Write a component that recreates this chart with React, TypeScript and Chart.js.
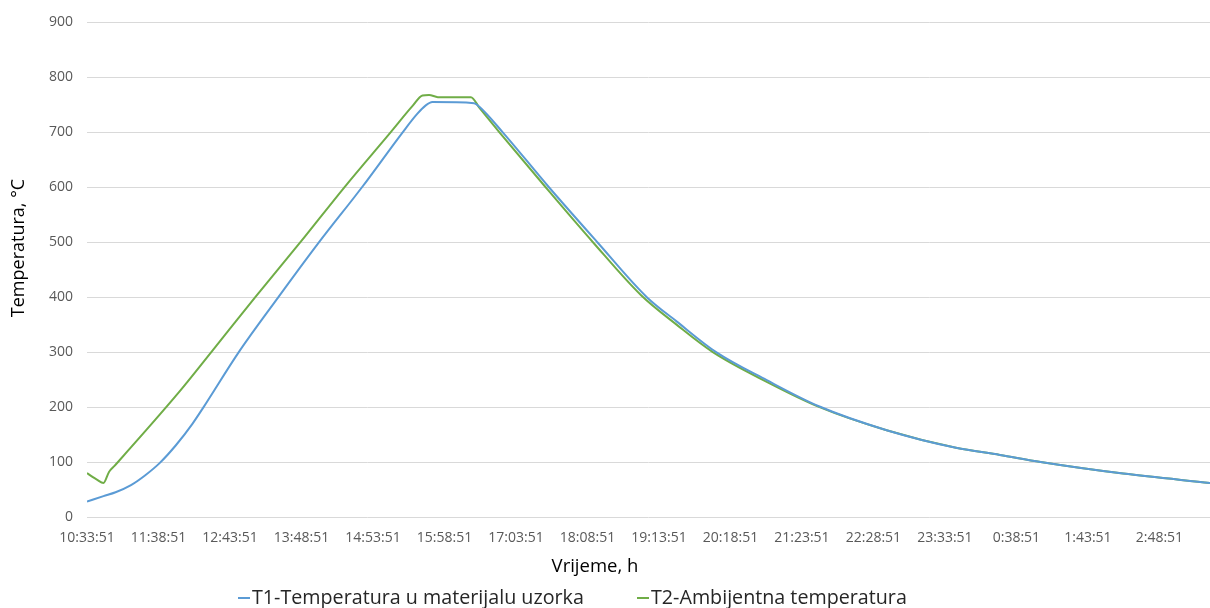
import React, { useEffect, useRef } from "react";
import { Chart, registerables } from "chart.js";

Chart.register(...registerables);

// ---- data (minutes elapsed since 10:33:51, temperature in °C) ----
const startTimeSeconds = 10 * 3600 + 33 * 60 + 51;
const tickStepMinutes = 65;
const xMaxMinutes = 1021;
const yMin = 0;
const yMax = 900;
const yStep = 100;

const t1Minutes = [0, 15, 26, 40, 53, 66, 81, 96, 106, 138, 174, 211, 250, 287, 300, 308, 314, 352, 357, 378, 420, 464, 509, 536, 572, 618, 666, 727, 790, 830, 867, 942, 1021];
const t1Values = [28, 38, 45, 58, 76, 98, 131, 170, 200, 300, 400, 500, 600, 700, 733, 749, 755, 753, 746, 700, 600, 500, 400, 356, 300, 249, 201, 158, 126, 113, 100, 79, 62];

const t2Minutes = [0, 5, 9, 15, 20, 25, 84, 113, 153, 194, 234, 276, 296, 305, 311, 319, 349, 357, 375, 417, 460, 504, 536, 569, 618, 666, 727, 790, 830, 867, 942, 1021];
const t2Values = [80, 73, 68, 62, 82, 93, 228, 300, 400, 500, 600, 700, 748, 767, 768, 764, 764, 744, 700, 600, 500, 403, 350, 300, 246, 200, 158, 126, 113, 100, 79, 62];

const seriesLabels = ["T1-Temperatura u materijalu uzorka", "T2-Ambijentna temperatura"];
const seriesColors = ["#5B9BD5", "#70AD47"];
const xTitle = "Vrijeme, h";
const yTitle = "Temperatura, °C";

const FONT = '"Open Sans", "Liberation Sans", sans-serif';

function formatTime(minutes: number): string {
  let s = (startTimeSeconds + Math.round(minutes * 60)) % 86400;
  const h = Math.floor(s / 3600);
  s -= h * 3600;
  const m = Math.floor(s / 60);
  const sec = s - m * 60;
  return `${h}:${String(m).padStart(2, "0")}:${String(sec).padStart(2, "0")}`;
}

const overlayPlugin = {
  id: "overlayTitlesLegend",
  afterDraw(chart: any) {
    const ctx = chart.ctx as CanvasRenderingContext2D;
    ctx.save();
    // axis titles
    ctx.fillStyle = "#000000";
    ctx.textAlign = "center";
    ctx.textBaseline = "middle";
    ctx.font = `18.5px ${FONT}`;
    ctx.fillText(xTitle, 595, 567);
    ctx.font = `18px ${FONT}`;
    ctx.save();
    ctx.translate(19, 248);
    ctx.rotate(-Math.PI / 2);
    ctx.fillText(yTitle, 0, 0);
    ctx.restore();

    // legend
    ctx.font = `19.7px ${FONT}`;
    const symbolW = 12;
    const symbolGap = 2;
    const itemLefts = [238, 637];
    const y = 598;
    ctx.textAlign = "left";
    seriesLabels.forEach((label, i) => {
      const x = itemLefts[i];
      ctx.strokeStyle = seriesColors[i];
      ctx.lineWidth = 2;
      ctx.beginPath();
      ctx.moveTo(x, y);
      ctx.lineTo(x + symbolW, y);
      ctx.stroke();
      ctx.fillStyle = "#262626";
      ctx.fillText(label, x + symbolW + symbolGap, y);
    });
    ctx.restore();
  },
};

export default function App() {
  const canvasRef = useRef<HTMLCanvasElement | null>(null);

  useEffect(() => {
    if (!canvasRef.current) return;
    const chart = new Chart(canvasRef.current, {
      type: "line",
      data: {
        datasets: [
          {
            label: seriesLabels[0],
            data: t1Minutes.map((m, i) => ({ x: m, y: t1Values[i] })),
            borderColor: seriesColors[0],
            backgroundColor: seriesColors[0],
            borderWidth: 2,
            pointRadius: 0,
            cubicInterpolationMode: "monotone",
            fill: false,
          },
          {
            label: seriesLabels[1],
            data: t2Minutes.map((m, i) => ({ x: m, y: t2Values[i] })),
            borderColor: seriesColors[1],
            backgroundColor: seriesColors[1],
            borderWidth: 2,
            pointRadius: 0,
            cubicInterpolationMode: "monotone",
            fill: false,
          },
        ],
      },
      options: {
        responsive: false,
        animation: false,
        layout: { padding: { top: 21, left: 0, right: 0, bottom: 0 } },
        plugins: {
          legend: { display: false },
          tooltip: { enabled: false },
        },
        scales: {
          x: {
            type: "linear",
            min: 0,
            max: xMaxMinutes,
            grid: { display: false, drawTicks: false },
            border: { display: false },
            ticks: {
              stepSize: tickStepMinutes,
              includeBounds: false,
              autoSkip: false,
              maxRotation: 0,
              minRotation: 0,
              padding: 13,
              color: "#595959",
              font: { family: FONT, size: 14 },
              callback: (v: any) => formatTime(Number(v)),
            },
            afterFit: (scale: any) => {
              scale.height = 91;
            },
          },
          y: {
            min: yMin,
            max: yMax,
            grid: { color: "#D9D9D9", lineWidth: 1, drawTicks: false },
            border: { display: false },
            ticks: {
              stepSize: yStep,
              padding: 14,
              color: "#595959",
              font: { family: FONT, size: 14 },
            },
            afterFit: (scale: any) => {
              scale.width = 87;
            },
          },
        },
      },
      plugins: [overlayPlugin],
    });
    return () => chart.destroy();
  }, []);

  return (
    <div style={{ position: "absolute", left: 0, top: 0, width: 1210, height: 608, background: "#fff" }}>
      <canvas ref={canvasRef} width={1210} height={608} style={{ display: "block" }} />
    </div>
  );
}
